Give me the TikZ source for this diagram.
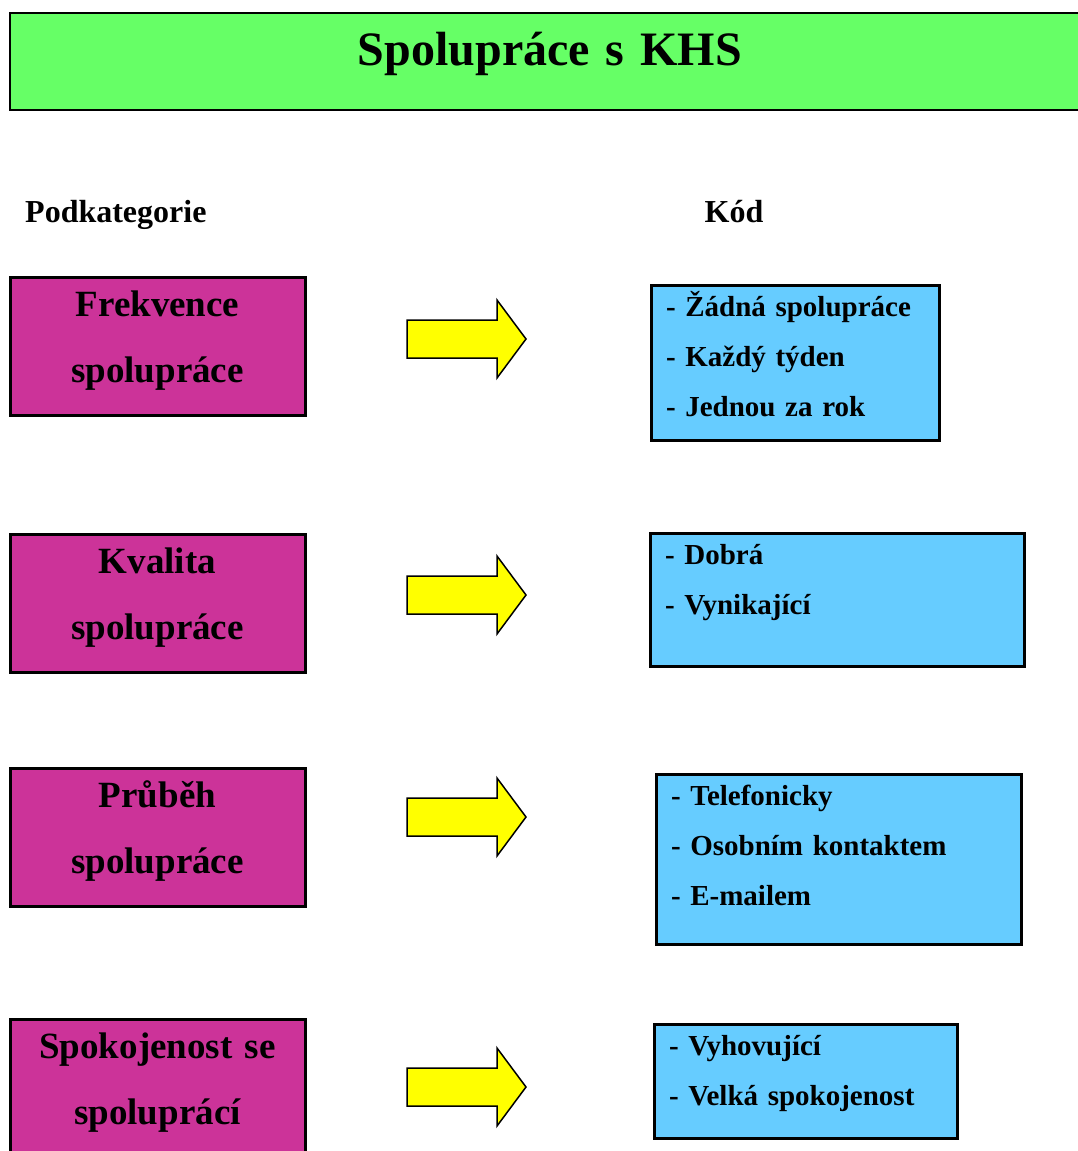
\documentclass[tikz,border=0pt]{standalone}
\usepackage{fontspec}
\setmainfont{Liberation Serif}
\definecolor{titlegreen}{HTML}{66FF66}
\definecolor{katmagenta}{HTML}{CC3399}
\definecolor{kodblue}{HTML}{66CCFF}
\definecolor{sipkayellow}{HTML}{FFFF00}
\tikzset{
  titlebox/.style={draw, line width=2pt, fill=titlegreen, anchor=north west,
    inner sep=0pt, outer sep=0pt, align=center, text width=1080pt,
    font=\bfseries\fontsize{48}{58}\selectfont},
  katbox/.style={draw, line width=3pt, fill=katmagenta, anchor=north west,
    inner xsep=5pt, inner ysep=0pt, outer sep=0pt, align=center, text width=285pt,
    text height=39pt, text depth=99pt,
    font=\bfseries\fontsize{37}{66}\selectfont},
  kodbox/.style={draw, line width=3pt, fill=kodblue, anchor=north west,
    inner xsep=15pt, inner ysep=0pt, outer sep=0pt, align=left, text height=31pt,
    font=\bfseries\fontsize{29}{50}\selectfont},
  heading/.style={font=\bfseries\fontsize{32}{36}\selectfont, inner sep=0pt},
  sipka/.style={draw, line width=1.5pt, fill=sipkayellow, line join=miter}
}
\begin{document}
\begin{tikzpicture}[x=1pt, y=-1pt]
  \useasboundingbox (0,0) rectangle (1078,1151);

  % Title
  \node[titlebox, text height=52pt, text depth=45pt] (nadpis) at (10,13) {Spolupráce s KHS};

  % Column headings
  \node[heading, anchor=base west] (podkat) at (25,222) {Podkategorie};
  \node[heading, anchor=base] (kod) at (734,222) {Kód};

  % Subcategories
  \node[katbox] (kat1) at (10,277) {Frekvence\\spolupráce};
  \node[katbox] (kat2) at (10,534) {Kvalita\\spolupráce};
  \node[katbox] (kat3) at (10,768) {Průběh\\spolupráce};
  \node[katbox] (kat4) at (10,1019) {Spokojenost se\\spoluprácí};

  % Codes
  \node[kodbox, text width=258pt, text depth=124pt] (kod1) at (651,285)
    {- Žádná spolupráce\\- Každý týden\\- Jednou za rok};
  \node[kodbox, text width=344pt, text depth=102pt] (kod2) at (650,533)
    {- Dobrá\\- Vynikající};
  \node[kodbox, text width=335pt, text depth=139pt] (kod3) at (656,774)
    {- Telefonicky\\- Osobním kontaktem\\- E-mailem};
  \node[kodbox, text width=273pt, text depth=83pt] (kod4) at (654,1024)
    {- Vyhovující\\- Velká spokojenost};

  % Block arrows
  \foreach \y in {339,595,817,1087} {
    \draw[sipka] (407,\y-19) -- (497,\y-19) -- (497,\y-39) -- (526,\y)
      -- (497,\y+39) -- (497,\y+19) -- (407,\y+19) -- cycle;
  }
\end{tikzpicture}
\end{document}
